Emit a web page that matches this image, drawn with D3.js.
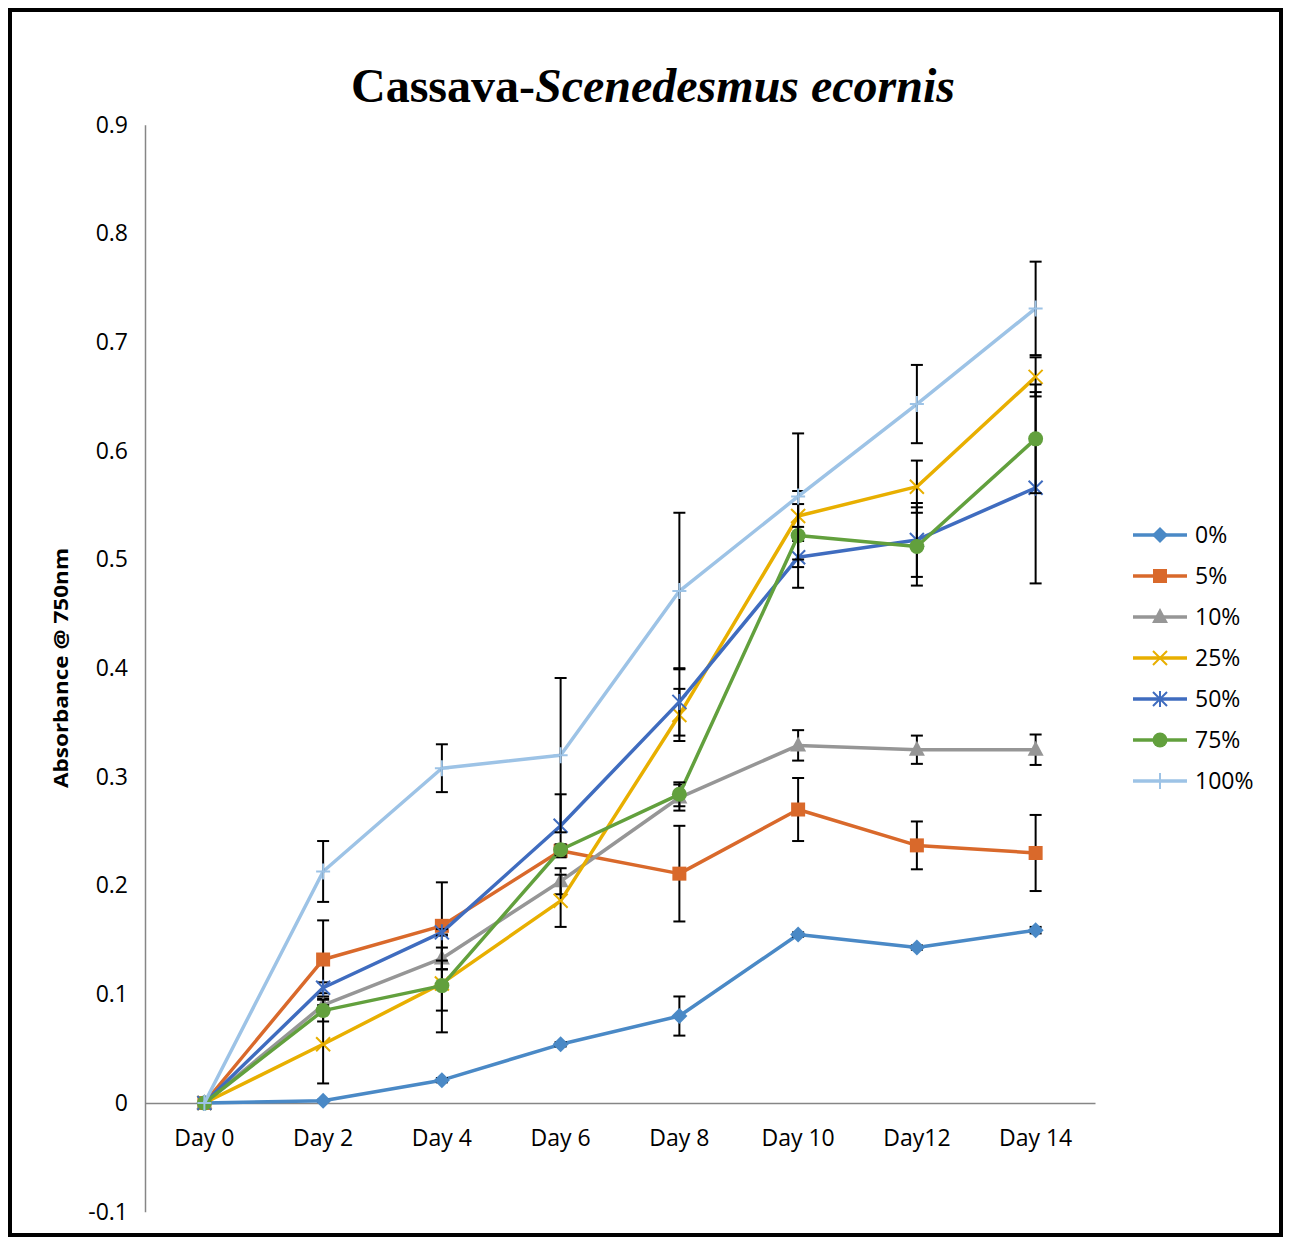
<!DOCTYPE html>
<html>
<head>
<meta charset="utf-8">
<script src="https://cdn.jsdelivr.net/npm/d3@7"></script>
<style>
  body { margin: 0; background: #fff; }
  svg { display: block; }
</style>
</head>
<body>
<svg id="chart" width="1289" height="1238"></svg>
<script>
// categories and tick labels
const days = ["Day 0", "Day 2", "Day 4", "Day 6", "Day 8", "Day 10", "Day12", "Day 14"]
const yTicks = [-0.1, 0, 0.1, 0.2, 0.3, 0.4, 0.5, 0.6, 0.7, 0.8, 0.9]
const yTickLabels = ["-0.1", "0", "0.1", "0.2", "0.3", "0.4", "0.5", "0.6", "0.7", "0.8", "0.9"]
const seriesNames = ["0%", "5%", "10%", "25%", "50%", "75%", "100%"]

// mean absorbance per day
const abs0 = [0, 0.002, 0.021, 0.054, 0.080, 0.155, 0.143, 0.159]
const abs5 = [0, 0.132, 0.163, 0.232, 0.211, 0.270, 0.237, 0.230]
const abs10 = [0, 0.090, 0.133, 0.204, 0.281, 0.329, 0.325, 0.325]
const abs25 = [0, 0.054, 0.110, 0.186, 0.357, 0.540, 0.567, 0.668]
const abs50 = [0, 0.106, 0.157, 0.255, 0.369, 0.502, 0.518, 0.566]
const abs75 = [0, 0.085, 0.108, 0.233, 0.284, 0.522, 0.512, 0.611]
const abs100 = [0, 0.213, 0.308, 0.320, 0.471, 0.558, 0.643, 0.731]

// error bar half-widths
const err0 = [0, 0.001, 0.002, 0.002, 0.018, 0.002, 0.002, 0.003]
const err5 = [0, 0.036, 0.040, 0.005, 0.044, 0.029, 0.022, 0.035]
const err10 = [0, 0.008, 0.010, 0.012, 0.012, 0.014, 0.013, 0.014]
const err25 = [0, 0.036, 0.045, 0.024, 0.024, 0.023, 0.024, 0.018]
const err50 = [0, 0.005, 0.003, 0.029, 0.031, 0.028, 0.034, 0.088]
const err75 = [0, 0.010, 0.023, 0.005, 0.011, 0.029, 0.036, 0.050]
const err100 = [0, 0.028, 0.022, 0.071, 0.072, 0.058, 0.036, 0.043]

const colors = ["#4a89c6", "#d9692b", "#969696", "#e8af00", "#3f6cbf", "#62a03d", "#9dc3e6"]
const markers = ["diamond", "square", "triangle", "x", "star", "circle", "plus"]

const allValues = [abs0, abs5, abs10, abs25, abs50, abs75, abs100]
const allErrors = [err0, err5, err10, err25, err50, err75, err100]

const series = seriesNames.map((name, i) => ({
  name: name,
  color: colors[i],
  marker: markers[i],
  points: days.map((d, j) => ({ day: d, v: allValues[i][j], e: allErrors[i][j] }))
}))

const svg = d3.select("#chart")
const font = "'Open Sans', sans-serif"

// frame
svg.append("rect")
  .attr("x", 10).attr("y", 10)
  .attr("width", 1271).attr("height", 1225)
  .attr("fill", "none")
  .attr("stroke", "#000")
  .attr("stroke-width", 4)

const x = d3.scaleBand().domain(days).range([145, 1095])
const y = d3.scaleLinear().domain([-0.1, 0.9]).range([1211.7, 124.7])
const cx = d => x(d) + x.bandwidth() / 2

// y axis
const yAxis = svg.append("g")
  .attr("transform", "translate(145,0)")
  .call(d3.axisLeft(y).tickValues(yTicks).tickSize(0).tickPadding(17)
    .tickFormat((d, i) => yTickLabels[i]))
yAxis.select(".domain").attr("stroke", "#868686").attr("stroke-width", 1.5)
yAxis.selectAll("text").attr("font-family", font).attr("font-size", 23).attr("fill", "#000")

// x axis on the zero line
const xAxis = svg.append("g")
  .attr("transform", "translate(0," + y(0) + ")")
  .call(d3.axisBottom(x).tickSize(0).tickPadding(27))
xAxis.select(".domain").attr("stroke", "#868686").attr("stroke-width", 1.5)
xAxis.selectAll("text").attr("font-family", font).attr("font-size", 23).attr("fill", "#000")

// title
const title = svg.append("text")
  .attr("x", 653).attr("y", 102)
  .attr("text-anchor", "middle")
  .attr("font-family", "'Liberation Serif', 'Times New Roman', serif")
  .attr("font-weight", "bold")
  .attr("font-size", 48)
title.append("tspan").text("Cassava-")
title.append("tspan").attr("font-style", "italic").text("Scenedesmus ecornis")

// y axis title
svg.append("text")
  .attr("transform", "translate(68,668) rotate(-90)")
  .attr("text-anchor", "middle")
  .attr("font-family", font)
  .attr("font-weight", "bold")
  .attr("font-size", 20)
  .attr("textLength", 240)
  .attr("lengthAdjust", "spacingAndGlyphs")
  .text("Absorbance @ 750nm")

function drawMarker(g, type, color) {
  if (type === "diamond") {
    g.append("path").attr("d", "M0,-8L8,0L0,8L-8,0Z").attr("fill", color)
  } else if (type === "square") {
    g.append("rect").attr("x", -7).attr("y", -7).attr("width", 14).attr("height", 14).attr("fill", color)
  } else if (type === "triangle") {
    g.append("path").attr("d", "M0,-9L8,6L-8,6Z").attr("fill", color)
  } else if (type === "circle") {
    g.append("circle").attr("r", 7.5).attr("fill", color)
  } else if (type === "x") {
    g.append("path").attr("d", "M-7,-7L7,7M-7,7L7,-7").attr("stroke", color).attr("stroke-width", 2).attr("fill", "none")
  } else if (type === "star") {
    g.append("path").attr("d", "M-7,-7L7,7M-7,7L7,-7M0,-8L0,8").attr("stroke", color).attr("stroke-width", 2).attr("fill", "none")
  } else if (type === "plus") {
    g.append("path").attr("d", "M-7,0L7,0M0,-8L0,8").attr("stroke", color).attr("stroke-width", 2).attr("fill", "none")
  }
}

const line = d3.line()
  .x(d => cx(d.day))
  .y(d => y(d.v))

series.forEach(s => {
  const g = svg.append("g")

  g.append("path")
    .datum(s.points)
    .attr("d", line)
    .attr("fill", "none")
    .attr("stroke", s.color)
    .attr("stroke-width", 3.5)
    .attr("stroke-linejoin", "round")

  // error bars
  const eb = g.selectAll(".err")
    .data(s.points.filter(p => p.e > 0))
    .enter()
    .append("g")
    .attr("stroke", "#000")
    .attr("stroke-width", 2)
  eb.append("line")
    .attr("x1", d => cx(d.day)).attr("x2", d => cx(d.day))
    .attr("y1", d => y(d.v + d.e)).attr("y2", d => y(d.v - d.e))
  eb.append("line")
    .attr("x1", d => cx(d.day) - 6).attr("x2", d => cx(d.day) + 6)
    .attr("y1", d => y(d.v + d.e)).attr("y2", d => y(d.v + d.e))
  eb.append("line")
    .attr("x1", d => cx(d.day) - 6).attr("x2", d => cx(d.day) + 6)
    .attr("y1", d => y(d.v - d.e)).attr("y2", d => y(d.v - d.e))

  s.points.forEach(p => {
    const m = g.append("g").attr("transform", "translate(" + cx(p.day) + "," + y(p.v) + ")")
    drawMarker(m, s.marker, s.color)
  })
})

// legend
const legend = svg.append("g").attr("transform", "translate(1133,535)")
series.forEach((s, i) => {
  const row = legend.append("g").attr("transform", "translate(0," + (i * 41) + ")")
  row.append("line")
    .attr("x1", 0).attr("x2", 54)
    .attr("stroke", s.color).attr("stroke-width", 3.5)
  drawMarker(row.append("g").attr("transform", "translate(27,0)"), s.marker, s.color)
  row.append("text")
    .attr("x", 62).attr("y", 0).attr("dy", "0.35em")
    .attr("font-family", font).attr("font-size", 23)
    .text(s.name)
})
</script>
</body>
</html>
